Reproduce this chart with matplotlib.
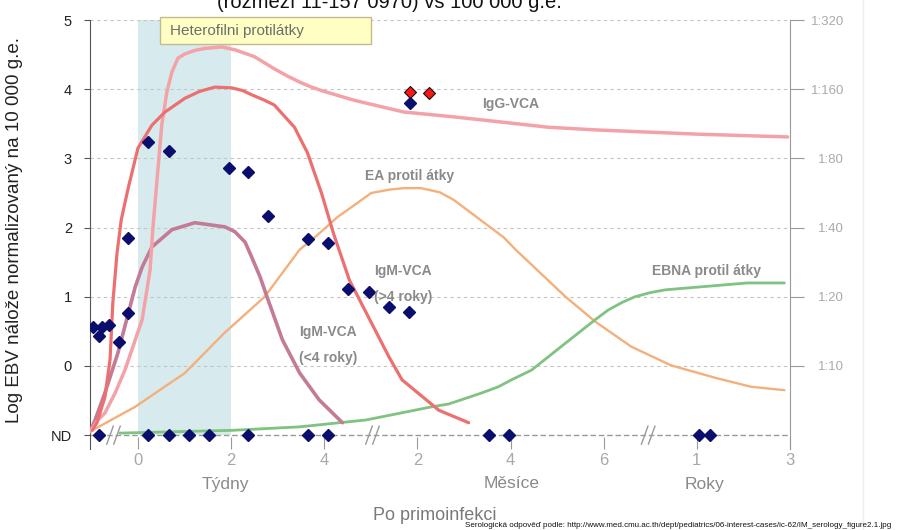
import matplotlib
matplotlib.use("Agg")
import matplotlib.pyplot as plt
from matplotlib.lines import Line2D
from matplotlib.patches import Rectangle

plt.rcParams['font.family'] = ['Liberation Sans', 'DejaVu Sans']

# ---------------- data (x in weeks-position units; y in log units, ND = -1) -------------
igg_x = [-1.03, -0.86, -0.71, -0.49, -0.28, 0.09, 0.26, 0.32, 0.51, 0.62, 0.73, 0.86,
         1.01, 1.22, 1.44, 1.80, 2.08, 2.50, 2.72, 2.94, 3.21, 3.48, 3.69, 3.94, 4.64,
         5.71, 6.78, 7.74, 8.81, 9.88, 12.02, 13.95]
igg_y = [-0.95, -0.78, -0.68, -0.39, -0.06, 0.67, 1.39, 1.99, 3.48, 3.96, 4.25, 4.45,
         4.51, 4.56, 4.59, 4.61, 4.57, 4.47, 4.38, 4.29, 4.19, 4.10, 4.04, 3.98, 3.84,
         3.67, 3.60, 3.53, 3.45, 3.41, 3.35, 3.31]

igm_old_x = [-0.98, -0.88, -0.71, -0.60, -0.54, -0.45, -0.36, -0.21, 0.0, 0.30, 0.58,
             1.01, 1.33, 1.65, 2.01, 2.25, 2.44, 2.72, 2.93, 3.36, 3.64, 3.94, 4.21,
             4.54, 4.90, 5.39, 5.67, 6.46, 7.10]
igm_old_y = [-0.93, -0.82, -0.45, 0.09, 0.91, 1.63, 2.11, 2.57, 3.15, 3.48, 3.67, 3.87,
             3.97, 4.03, 4.02, 3.98, 3.92, 3.84, 3.77, 3.45, 3.08, 2.50, 1.89, 1.24,
             0.77, 0.13, -0.20, -0.64, -0.82]

igm_young_x = [-1.03, -0.92, -0.71, -0.43, -0.06, 0.09, 0.30, 0.73, 1.22, 1.87, 2.08,
               2.30, 2.45, 2.62, 2.77, 3.10, 3.47, 3.89, 4.39]
igm_young_y = [-0.95, -0.78, -0.39, 0.19, 1.14, 1.43, 1.72, 1.97, 2.07, 2.01, 1.94,
               1.79, 1.56, 1.29, 1.00, 0.38, -0.10, -0.49, -0.82]

ea_x = [-0.98, -0.06, 1.01, 1.86, 2.72, 3.47, 3.85, 4.28, 5.01, 5.41, 5.71, 6.08, 6.48,
        6.78, 7.85, 8.11, 9.18, 9.82, 10.59, 11.44, 12.39, 13.16, 13.88]
ea_y = [-0.93, -0.59, -0.10, 0.48, 1.00, 1.68, 1.89, 2.15, 2.50, 2.55, 2.57, 2.57, 2.51,
        2.40, 1.86, 1.68, 1.00, 0.64, 0.28, 0.01, -0.17, -0.30, -0.35]

ebna_x = [-0.39, 2.03, 3.47, 4.90, 6.31, 6.67, 7.38, 7.74, 8.02, 8.45, 9.18, 9.82,
          10.10, 10.40, 10.67, 11.00, 11.32, 12.02, 13.09, 13.88]
ebna_y = [-0.97, -0.93, -0.88, -0.78, -0.59, -0.55, -0.39, -0.30, -0.20, -0.06, 0.33,
          0.67, 0.81, 0.92, 1.00, 1.06, 1.10, 1.14, 1.20, 1.20]

pts_x = [-0.96, -0.83, -0.77, -0.62, -0.41, -0.21, -0.21, 0.21, 0.66, 1.95, 2.37, 2.80,
         3.66, 4.09, 4.51, 4.96, 5.39, 5.82, 5.84]
pts_y = [0.56, 0.43, 0.56, 0.59, 0.35, 0.77, 1.85, 3.24, 3.11, 2.86, 2.80, 2.17,
         1.84, 1.78, 1.11, 1.07, 0.85, 0.78, 3.80]
red_x = [5.84, 6.25]
red_y = [3.96, 3.95]
nd_x = [-0.83, 0.21, 0.66, 1.09, 1.52, 2.37, 3.66, 4.09, 7.53, 7.96, 12.04, 12.28]
nd_y = [-1] * len(nd_x)

ytick_vals = [-1, 0, 1, 2, 3, 4, 5]
ytick_labels = ['ND', '0', '1', '2', '3', '4', '5']
titer_vals = [0, 1, 2, 3, 4, 5]
titer_labels = ['1:10', '1:20', '1:40', '1:80', '1:160', '1:320']
xtick_vals = [0, 2, 4, 6, 8, 10, 12, 14]
xtick_labels = ['0', '2', '4', '2', '4', '6', '1', '3']
break_pos = [-0.53, 5.03, 10.95]

# ---------------- figure ----------------
W, H = 902, 530
fig = plt.figure(figsize=(W / 100, H / 100), dpi=100)
ax = fig.add_axes([90 / W, 1 - 449 / H, 700 / W, 429 / H])
ax.set_xlim(-1.03, 14.0)
ax.set_ylim(-1.2, 5.0)

# heterophile shading
ax.fill_between([0, 2], -1, 5, color='#d7ebef', lw=0, zorder=0)

# grid lines
for yv in titer_vals:
    ax.axhline(yv, color='#c4c4c4', ls=(0, (3, 3)), lw=0.8, zorder=1)
ax.axhline(-1, color='#9a9a9a', ls=(0, (4, 2)), lw=1.0, zorder=1)

# curves
kw = dict(solid_joinstyle='round', solid_capstyle='round', zorder=3)
ax.plot(ea_x, ea_y, color='#f4b07c', lw=1.7, **kw)
ax.plot(ebna_x, ebna_y, color='#80c281', lw=2.0, **kw)
ax.plot(igm_young_x, igm_young_y, color='#c47b95', lw=2.6, **kw)
ax.plot(igg_x, igg_y, color='#f3a3a8', lw=2.5, **kw)
ax.plot(igm_old_x, igm_old_y, color='#ec7070', lw=2.3, **kw)

# points
ax.plot(pts_x, pts_y, 'D', color='#0a0f6e', ms=6.3, zorder=5)
ax.plot(nd_x, nd_y, 'D', color='#0a0f6e', ms=6.3, zorder=5, clip_on=False)
ax.plot(red_x, red_y, 'D', mfc='#ff1414', mec='#111111', mew=0.8, ms=6.5, zorder=5)

# break marks
for b in break_pos:
    for off in (-0.07, 0.08):
        ax.plot([b + off - 0.07, b + off + 0.07], [-1.13, -0.87], color='#9a9a9a',
                lw=1.0, clip_on=False, zorder=4)

# curve labels
lab = dict(fontsize=10, fontweight='bold', color='#8a8a8a', ha='center', va='center', zorder=6)
ax.text(8.01, 3.79, 'IgG-VCA', **lab)
ax.text(5.84, 2.75, 'EA protil átky', **lab)
ax.text(5.69, 1.37, 'IgM-VCA', **lab)
ax.text(5.69, 1.00, '(>4 roky)', **lab)
ax.text(4.08, 0.49, 'IgM-VCA', **lab)
ax.text(4.08, 0.12, '(<4 roky)', **lab)
ax.text(12.2, 1.37, 'EBNA protil átky', **lab)

# spines / ticks
for s in ('top', 'right', 'bottom'):
    ax.spines[s].set_visible(False)
ax.spines['left'].set_color('#555555')
ax.set_yticks(ytick_vals)
ax.set_yticklabels(ytick_labels)
ax.tick_params(axis='y', direction='out', length=4, color='#555555', labelcolor='#222222',
               labelsize=10.5, pad=9)
ax.set_xticks(xtick_vals)
ax.set_xticklabels(xtick_labels)
ax.tick_params(axis='x', direction='in', length=9, color='#9a9a9a', labelcolor='#a8a8a8',
               labelsize=12, pad=3)
ax.set_ylabel('Log EBV nálože normalizovaný na 10 000 g.e.', fontsize=13.5, color='#222222')
ax.yaxis.set_label_coords(-0.096, 0.51)

ax2 = ax.twinx()
ax2.set_ylim(-1.2, 5.0)
for s in ('top', 'left', 'bottom'):
    ax2.spines[s].set_visible(False)
ax2.spines['right'].set_color('#999999')
ax2.set_yticks(titer_vals)
ax2.set_yticklabels(titer_labels)
ax2.tick_params(axis='y', direction='out', length=10, color='#999999', labelcolor='#aaaaaa',
                labelsize=9.5, pad=29)
for t in ax2.get_yticklabels():
    t.set_horizontalalignment('right')

# heterophile box
fig.add_artist(Rectangle((160 / W, 1 - 44 / H), 211 / W, 27 / H, transform=fig.transFigure,
                         facecolor='#ffffc4', edgecolor='#c2bb8e', lw=1.0, zorder=10))
fig.text(170 / W, 1 - 30.5 / H, 'Heterofilni protilátky', fontsize=11, color='#6e6e6e',
         ha='left', va='center', zorder=11)

# clipped title at top (cut off in the original as well)
fig.text(217 / W, 1 - 8 / H, '(rozmezí 11-157 0970) vs 100 000 g.e.', fontsize=14.5,
         color='#111111', ha='left', va='baseline')

# x category labels
cat = dict(fontsize=12.5, color='#8a8a8a', ha='center', va='center')
fig.text(225 / W, 1 - 484 / H, 'Týdny', **cat)
fig.text(512 / W, 1 - 484 / H, 'Měsíce', **cat)
fig.text(704 / W, 1 - 484 / H, 'Roky', **cat)
fig.text(435 / W, 1 - 516 / H, 'Po primoinfekci', fontsize=13, color='#7a7a7a',
         ha='center', va='center')
fig.text(465 / W, 1 - 527 / H,
         'Serologická odpověď podle: http://www.med.cmu.ac.th/dept/pediatrics/06-interest-cases/ic-62/IM_serology_figure2.1.jpg',
         fontsize=5.8, color='#111111', ha='left', va='baseline')

fig.add_artist(Line2D([863 / W, 863 / W], [0, 1], color='#eeeeee', lw=1.0))

fig.savefig('out.png', dpi=100)
